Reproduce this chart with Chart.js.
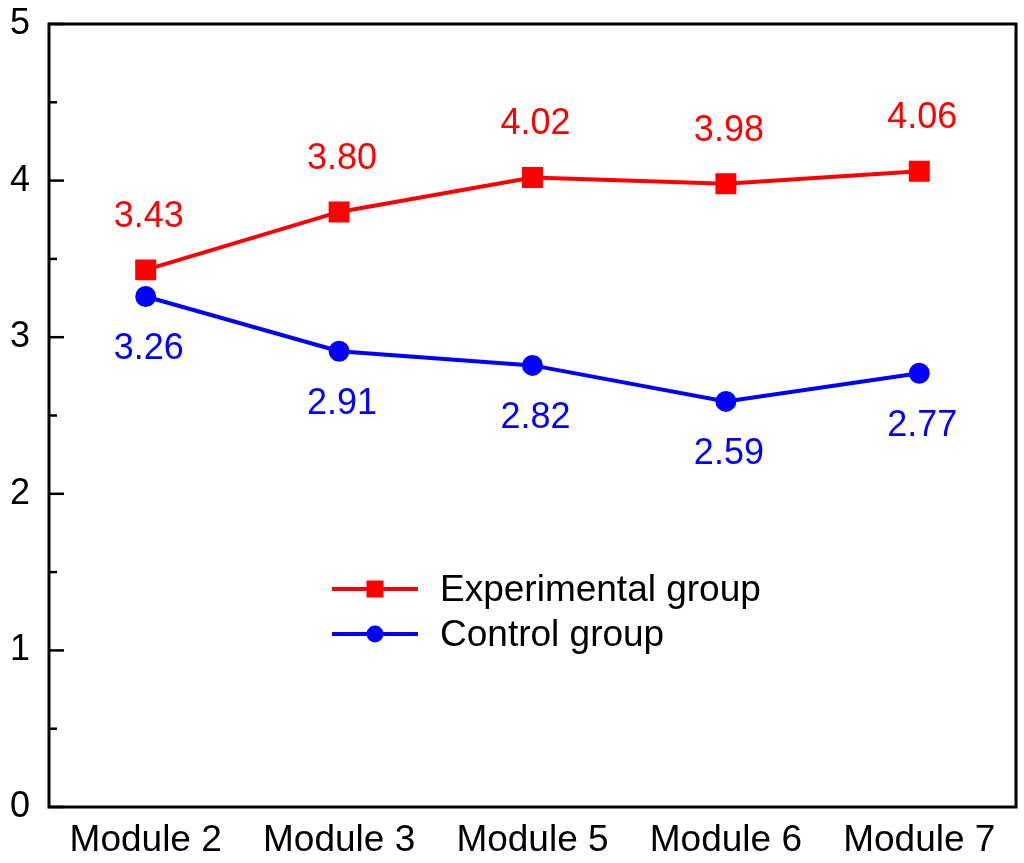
<!DOCTYPE html>
<html>
<head>
<meta charset="utf-8">
<script src="https://cdn.jsdelivr.net/npm/chart.js@4/dist/chart.umd.min.js"></script>
<style>
  html, body { margin: 0; padding: 0; background: #fff; }
  #wrap { width: 1024px; height: 863px; }
</style>
</head>
<body>
<div id="wrap"><canvas id="myChart"></canvas></div>
<script>
var modules = ["Module 2", "Module 3", "Module 5", "Module 6", "Module 7"];
var experimental = [3.43, 3.80, 4.02, 3.98, 4.06];
var control = [3.26, 2.91, 2.82, 2.59, 2.77];
var yTicks = [0, 1, 2, 3, 4, 5];

var FONT = "'Liberation Sans', Arial, sans-serif";

// box round the plot, with inward ticks on the left
var framePlugin = {
  id: "frame",
  beforeDatasetsDraw: function (chart) {
    var ctx = chart.ctx;
    var a = chart.chartArea;
    var y = chart.scales.y;
    ctx.save();
    ctx.strokeStyle = "#000";
    ctx.lineWidth = 3;
    ctx.strokeRect(a.left, a.top, a.right - a.left, a.bottom - a.top);
    ctx.lineWidth = 2.5;
    for (var v = 0; v <= 5; v += 0.5) {
      var py = y.getPixelForValue(v);
      var len = (v % 1 === 0) ? 15 : 8;
      ctx.beginPath();
      ctx.moveTo(a.left, py);
      ctx.lineTo(a.left + len, py);
      ctx.stroke();
    }
    ctx.restore();
  }
};

// value labels: red above, blue below
var labelPlugin = {
  id: "valueLabels",
  afterDatasetsDraw: function (chart) {
    var ctx = chart.ctx;
    ctx.save();
    ctx.font = "36px " + FONT;
    ctx.textAlign = "center";
    ctx.textBaseline = "middle";
    chart.data.datasets.forEach(function (ds, di) {
      var meta = chart.getDatasetMeta(di);
      var off = di === 0 ? -53 : 53;
      ctx.fillStyle = ds.borderColor;
      meta.data.forEach(function (pt, i) {
        ctx.fillText(ds.data[i].toFixed(2), pt.x + 3, pt.y + off);
      });
    });
    ctx.restore();
  }
};

// legend drawn inside the plot: line with marker, then text
var legendPlugin = {
  id: "innerLegend",
  afterDraw: function (chart) {
    var ctx = chart.ctx;
    var a = chart.chartArea;
    var x0 = a.left + 283;
    var rows = [a.top + 565, a.top + 610];
    ctx.save();
    chart.data.datasets.forEach(function (ds, di) {
      var ry = rows[di];
      ctx.strokeStyle = ds.borderColor;
      ctx.lineWidth = 4;
      ctx.beginPath();
      ctx.moveTo(x0, ry);
      ctx.lineTo(x0 + 86, ry);
      ctx.stroke();
      ctx.fillStyle = ds.borderColor;
      if (ds.pointStyle === "rect") {
        ctx.fillRect(x0 + 43 - 8.5, ry - 8.5, 17, 17);
      } else {
        ctx.beginPath();
        ctx.arc(x0 + 43, ry, 8.5, 0, 2 * Math.PI);
        ctx.fill();
      }
      ctx.fillStyle = "#000";
      ctx.font = "37px " + FONT;
      ctx.textAlign = "left";
      ctx.textBaseline = "middle";
      ctx.fillText(ds.label, x0 + 108, ry + 2);
    });
    ctx.restore();
  }
};

new Chart(document.getElementById("myChart"), {
  type: "line",
  data: {
    labels: modules,
    datasets: [
      {
        label: "Experimental group",
        data: experimental,
        borderColor: "#ff0000",
        backgroundColor: "#ff0000",
        borderWidth: 4,
        pointStyle: "rect",
        pointRadius: 12,
        pointHoverRadius: 12,
        tension: 0
      },
      {
        label: "Control group",
        data: control,
        borderColor: "#0000ff",
        backgroundColor: "#0000ff",
        borderWidth: 4,
        pointStyle: "circle",
        pointRadius: 8.5,
        pointHoverRadius: 8.5,
        tension: 0
      }
    ]
  },
  options: {
    responsive: true,
    maintainAspectRatio: false,
    animation: false,
    layout: { autoPadding: false, padding: { top: 24, right: 8, left: 0, bottom: 0 } },
    plugins: {
      legend: { display: false },
      tooltip: { enabled: false }
    },
    scales: {
      x: {
        offset: true,
        grid: { display: false, drawTicks: false },
        border: { display: false },
        ticks: { color: "#000", font: { family: FONT, size: 37 }, padding: 12, maxRotation: 0 },
        afterFit: function (s) {
          s.height = 56;
          s.paddingLeft = 0;
          s.paddingRight = 0;
        }
      },
      y: {
        min: 0,
        max: 5,
        grid: { display: false, drawTicks: false },
        border: { display: false },
        afterBuildTicks: function (s) {
          s.ticks = yTicks.map(function (v) { return { value: v }; });
        },
        ticks: { color: "#000", font: { family: FONT, size: 36 }, padding: 19 },
        afterFit: function (s) {
          s.width = 49;
          s.paddingTop = 0;
          s.paddingBottom = 0;
        }
      }
    }
  },
  plugins: [framePlugin, labelPlugin, legendPlugin]
});
</script>
</body>
</html>
